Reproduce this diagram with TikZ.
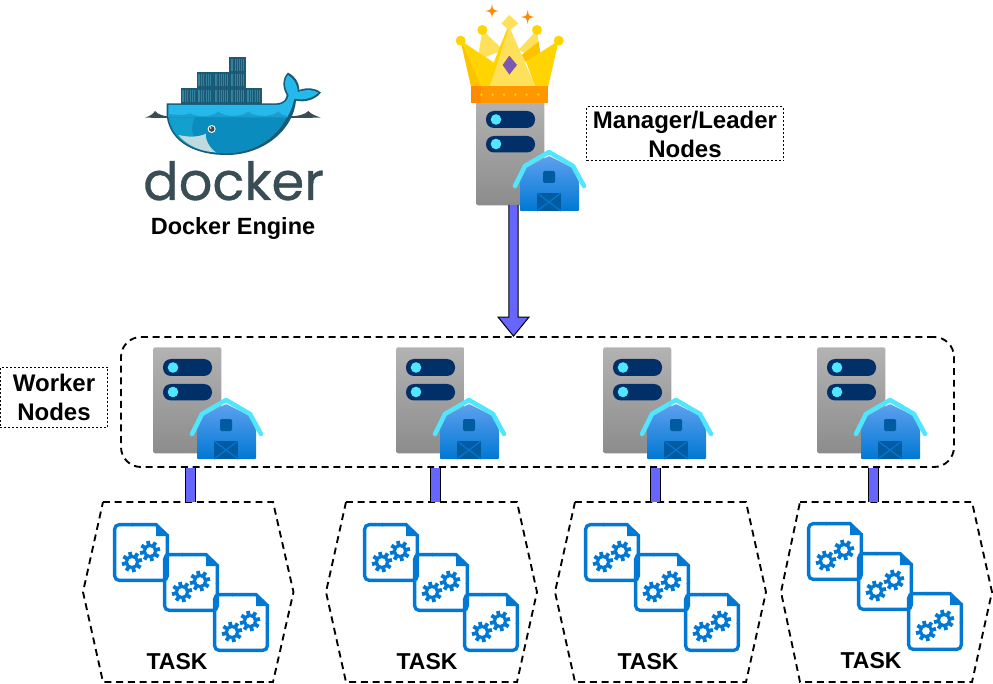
\documentclass[tikz,border=0pt]{standalone}
\usepackage{fontspec}
\setmainfont{Liberation Sans}
\newfontfamily\dockerfont[FakeBold=0.6]{Poppins}
\usetikzlibrary{calc}
\definecolor{barblue}{HTML}{6666FF}
\definecolor{docblue}{HTML}{0078D4}
\definecolor{pillblue}{HTML}{003067}
\definecolor{roofcyan}{HTML}{50E6FF}
\definecolor{doorblue}{HTML}{005BA1}
\definecolor{dockgrey}{HTML}{394D54}
\definecolor{boxdark}{HTML}{1A5A74}
\definecolor{boxlight}{HTML}{34829F}
\definecolor{hulltop}{HTML}{24B8EB}
\definecolor{hullband}{HTML}{1C9DD0}
\definecolor{hullmid}{HTML}{0A8DBE}
\definecolor{hullshade}{HTML}{12A0CC}
\definecolor{belly}{HTML}{BFDBE0}
\definecolor{barntop}{HTML}{5EA0EF}
\definecolor{crownlight}{HTML}{FFE05A}
\definecolor{crownmain}{HTML}{FFD400}
\definecolor{crowndark}{HTML}{FCC400}
\definecolor{crownband}{HTML}{FF9800}
\definecolor{crownbandd}{HTML}{FF8A00}
\definecolor{crownpurple}{HTML}{7E57B2}
\tikzset{
  dashbox/.style={draw=black,line width=1.4pt,dash pattern=on 5.2pt off 3.6pt},
  labelbox/.style={draw=black,line width=0.75pt,dash pattern=on 1.5pt off 1.5pt,align=center,inner sep=0pt,font=\fontsize{18}{21.8}\selectfont\bfseries},
  barline/.style={draw=black,double=barblue,line width=0.9pt,double distance=6.6pt},
  arrowbody/.style={draw=black,fill=barblue,line width=0.75pt,line join=miter},
  serverbody/.style={rectangle,rounded corners=1.5pt,minimum width=51pt,minimum height=79.5pt,inner sep=0pt,top color=black!30,bottom color=black!45,draw=none},
  pill/.style={fill=pillblue,rounded corners=6pt},
  dotc/.style={fill=roofcyan},
  roof/.style={draw=roofcyan,line width=3.4pt,line cap=round,line join=round},
  docline/.style={draw=docblue,line width=2.5pt,line join=miter},
  tasklabel/.style={inner sep=0pt,font=\fontsize{17.25}{20}\selectfont\bfseries},
  wbox/.style={fill=boxdark},
  wfill/.style={fill=boxlight},
}
% origin (x,y) is the top-left corner of the grey body
\newcommand{\serverbarn}[3]{%
  \node[serverbody,anchor=north west] (#1) at (#2,#3) {};
  \begin{scope}[shift={(#2,#3)}]
    \fill[pill] (10,12) rectangle (59,29);
    \fill[pill] (10,37) rectangle (59,53.5);
    \fill[dotc] (20,20.5) circle [radius=5.3];
    \fill[dotc] (20,45) circle [radius=5.3];
    \shade[top color=barntop,bottom color=docblue,rounded corners=0.6pt]
      (44,112) -- (44,83) -- (50,69) -- (73,57) -- (97,69) -- (103,83) -- (103,112) -- cycle;
    \fill[doorblue,rounded corners=1pt] (67,72) rectangle (79,84);
    \fill[doorblue] (61,94) rectangle (85,112);
    \draw[docblue,line width=0.9pt] (61,94) -- (85,112) (85,94) -- (61,112);
    \draw[roof] (39,87) -- (49,67) -- (73,53) -- (97,67) -- (108,87);
  \end{scope}}
\newcommand{\gearicon}[2]{%
  \foreach \a in {0,45,...,315}{%
    \fill[docblue,rotate around={\a+12:(#1,#2)}] (#1-1.9,#2-10.2) rectangle (#1+1.9,#2-6);}
  \draw[docblue,line width=2.3pt] (#1,#2) circle [radius=5.6];}
\newcommand{\docicon}[2]{%
  \begin{scope}[shift={(#1,#2)}]
    \draw[docline,rounded corners=3.5pt] (20,1.6) -- (1.6,1.6) -- (1.6,57.4) -- (54.4,57.4) -- (54.4,30);
    \draw[docline] (54.4,31) -- (54.4,12.5) -- (43,1.6) -- (19,1.6);
    \fill[docblue] (43,2) -- (55,13) -- (43,13) -- cycle;
    \gearicon{19}{39}
    \gearicon{37}{28}
  \end{scope}}
% name, left tip, top-left, top-right, right tip, doc x, doc y, label x, label y
\newcommand{\taskgroup}[9]{%
  \draw[dashbox] (#3,502) -- (#4,502) -- (#5,592) -- (#4,682) -- (#3,682) -- (#2,592) -- cycle;
  \docicon{#6}{#7}
  \docicon{#6+50}{#7+30}
  \docicon{#6+100}{#7+70}
  \node[tasklabel] (#1) at (#8,#9) {TASK};}
\begin{document}
\begin{tikzpicture}[x=0.75pt,y=-0.75pt]
\useasboundingbox (0,0) rectangle (993,684);

% ---- docker whale
\begin{scope}[shift={(130,40)},x=0.25pt,y=-0.25pt]
  \foreach \bx/\by in {152/145,200/145,250/145,298/145,347/145,200/97,250/97,298/97,298/52}{%
    \fill[wbox] (\bx,\by) rectangle ++(49,46);
    \fill[wfill] (\bx+5,\by+6) rectangle ++(38,34);
    \foreach \k in {1,...,6}{\draw[boxdark,line width=0.35pt] (\bx+5+\k*5.5,\by+6) -- ++(0,34);}
  }
  % water line
  \fill[dockgrey] (45,233) .. controls (60,228) and (70,222) .. (75,213) .. controls (85,224) and (100,228) .. (115,229) -- (115,234) -- cycle;
  \fill[dockgrey] (480,229) .. controls (505,228) and (525,224) .. (535,213) .. controls (545,224) and (560,228) .. (572,233) -- (480,234) -- cycle;
  % hull
  \fill[boxdark] (110,190) -- (440,190) .. controls (462,188) and (468,178) .. (470,165)
     .. controls (455,140) and (458,112) .. (474,98) .. controls (495,108) and (508,128) .. (508,150)
     .. controls (530,142) and (555,142) .. (573,158) .. controls (555,180) and (525,188) .. (498,182)
     .. controls (490,270) and (400,345) .. (290,345) .. controls (200,345) and (120,310) .. (110,228) -- cycle;
  \fill[hulltop] (115,195) -- (440,195) .. controls (465,193) and (474,180) .. (476,165)
     .. controls (461,140) and (462,118) .. (474,105) .. controls (490,115) and (503,132) .. (503,156)
     .. controls (530,148) and (548,148) .. (565,158) .. controls (548,175) and (520,182) .. (493,176)
     .. controls (485,205) and (480,220) .. (470,232) -- (115,232) -- cycle;
  \fill[hullband] (115,232) -- (115,222) .. controls (140,226) and (170,226) .. (180,220)
     .. controls (200,232) and (245,232) .. (265,215) .. controls (285,232) and (335,232) .. (355,215)
     .. controls (375,232) and (425,232) .. (445,215) .. controls (455,225) and (465,228) .. (475,228) -- (470,234) -- cycle;
  \fill[hullmid] (115,232) -- (470,232) .. controls (440,295) and (370,340) .. (290,340)
     .. controls (200,340) and (125,305) .. (115,232) -- cycle;
  \fill[hullshade] (118,232) -- (195,232) .. controls (170,280) and (200,330) .. (270,338)
     .. controls (190,335) and (128,300) .. (118,232) -- cycle;
  \fill[belly] (145,285) .. controls (175,292) and (205,292) .. (228,281)
     .. controls (225,300) and (240,325) .. (258,337) .. controls (210,335) and (170,315) .. (145,285) -- cycle;
  \fill[white] (245,267) circle [radius=12];
  \fill[dockgrey] (245,267) circle [radius=8.5];
  \fill[white] (242,264) circle [radius=2.6];
\end{scope}
\node[anchor=base,inner sep=0pt,text=dockgrey,font=\fontsize{39.5}{40}\dockerfont] (dockertext) at (233.5,200) {docker};
\node[inner sep=0pt,font=\fontsize{17.6}{20}\bfseries] (engine) at (233,228) {Docker Engine};

% ---- manager
\serverbarn{mgr}{476}{99}
\begin{scope}[shift={(440,0)},x=0.25pt,y=-0.25pt]
  \fill[crownlight] (127,90) -- (113,180) -- (190,150) -- cycle;
  \fill[crownlight] (291,90) -- (303,180) -- (235,150) -- cycle;
  \fill[crowndark] (296,125) -- (303,180) -- (255,185) -- (245,165) -- cycle;
  \fill[crownmain] (62,122) -- (165,190) -- (135,258) -- (93,258) -- cycle;
  \fill[crowndark] (62,122) -- (93,258) -- (123,258) -- cycle;
  \fill[crownmain] (356,122) -- (325,258) -- (285,258) -- (258,185) -- cycle;
  \fill[crownmain] (208,70) -- (208,92) -- (150,258) -- (133,258) -- cycle;
  \fill[crownlight] (208,80) -- (285,258) -- (150,258) -- cycle;
  \fill[crownlight] (208,45) -- (235,70) -- (208,92) -- (184,70) -- cycle;
  \fill[crownpurple] (208,167) -- (231,195) -- (208,224) -- (188,195) -- cycle;
  \foreach \bx/\by in {62/122,127/90,291/90,356/122}{\fill[crownmain] (\bx,\by) circle [radius=15];}
  \fill[crownband] (93,258) rectangle (325,310);
  \fill[crownbandd] (93,258) rectangle (123,310);
  \foreach \bx in {124,158,192,226,260,295}{\fill[crownmain] (\bx,284) circle [radius=4];}
  \foreach \sx/\sy/\sr in {156/33/21,263/51/21}{%
    \fill[crownbandd] (\sx,\sy-\sr) .. controls (\sx+3,\sy-3) .. (\sx+\sr,\sy)
       .. controls (\sx+3,\sy+3) .. (\sx,\sy+\sr) .. controls (\sx-3,\sy+3) .. (\sx-\sr,\sy)
       .. controls (\sx-3,\sy-3) .. cycle;}
\end{scope}
\node[labelbox,minimum width=147.4pt,minimum height=40.5pt] (mgrlabel) at (685,134) {Manager/Leader\\Nodes};

% ---- workers
\node[dashbox,rectangle,rounded corners=15pt,minimum width=624.75pt,minimum height=97.5pt,inner sep=0pt] (workers) at (537.5,402) {};
\node[labelbox,minimum width=80.5pt,minimum height=45.5pt] (wrklabel) at (54,397.5) {Worker\\Nodes};
\serverbarn{w1}{153}{347}
\serverbarn{w2}{396}{347}
\serverbarn{w3}{603}{347}
\serverbarn{w4}{817}{347}

% ---- tasks
\taskgroup{t1}{83}{103}{273}{293.5}{113}{523}{177}{662}
\taskgroup{t2}{326}{346}{517}{537}{363}{523}{427}{662}
\taskgroup{t3}{555}{575}{746}{766}{584}{523}{648}{662}
\taskgroup{t4}{781}{800}{972}{992}{807}{522}{871}{661}

% ---- connectors
\coordinate (mgrout) at (513.5,205);
\coordinate (tip) at (mgrout |- workers.north);
\draw[arrowbody] ($(mgrout)+(-4.6,0)$) -- ($(tip)+(-4.6,-19)$) -- ($(tip)+(-15.5,-19)$) -- (tip)
   -- ($(tip)+(15.5,-19)$) -- ($(tip)+(4.6,-19)$) -- ($(mgrout)+(4.6,0)$);
\foreach \n/\bx in {1/190.7,2/435.7,3/655.5,4/873.7}{%
  \coordinate (b\n a) at (\bx,402);
  \coordinate (b\n b) at (\bx,502);
  \draw[barline] (b\n a |- workers.south) -- (b\n b);
}
\end{tikzpicture}
\end{document}
